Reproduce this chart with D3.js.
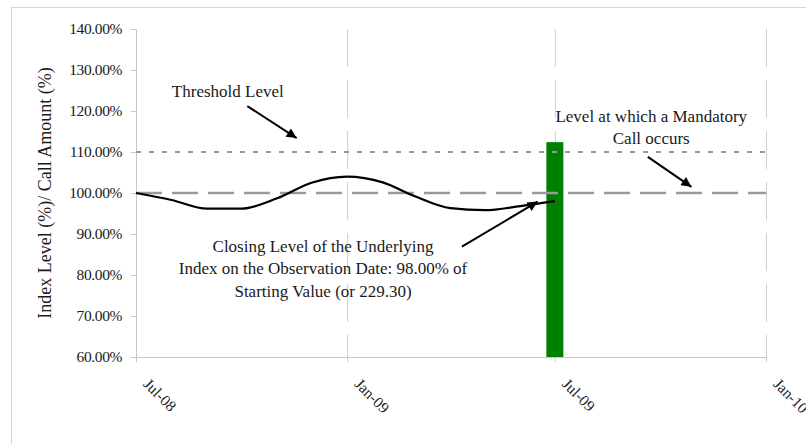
<!DOCTYPE html>
<html>
<head>
<meta charset="utf-8">
<script src="https://cdn.jsdelivr.net/npm/d3@7"></script>
<style>
  body { margin: 0; background: #fff; }
  svg { display: block; font-family: "Liberation Serif", "Times New Roman", serif; }
</style>
</head>
<body>
<svg id="chart" width="806" height="444"></svg>
<script>
// data
var months = ['2008-07-01','2008-08-01','2008-09-01','2008-10-01','2008-11-01','2008-12-01',
              '2009-01-01','2009-02-01','2009-03-01','2009-04-01','2009-05-01','2009-06-01','2009-07-01'];
var indexLevel = [100, 98.3, 96.2, 96.2, 98.7, 102.5, 104, 102.6, 99.2, 96.3, 95.8, 96.8, 98.0];

var barDates = ['2009-07-01'];
var barValues = [112.4];

var thresholdLevel = 110;
var callLevel = 100;

var xTicks = ['2008-07-01','2009-01-01','2009-07-01','2010-01-01'];
var yTicks = [60, 70, 80, 90, 100, 110, 120, 130, 140];

var notes = [
  {lines: ['Threshold Level'], date: '2008-09-19', value: 123.5,
   from: ['2008-10-06', 121.2], to: ['2008-11-18', 113.4]},
  {lines: ['Level at which a Mandatory', 'Call occurs'], date: '2009-09-23', value: 117.4,
   from: ['2009-09-20', 108.8], to: ['2009-10-28', 101.5]},
  {lines: ['Closing Level of the Underlying', 'Index on the Observation Date: 98.00% of', 'Starting Value (or 229.30)'],
   date: '2008-12-11', value: 85.7,
   from: ['2009-04-11', 86.9], to: ['2009-06-16', 97.9]}
];

var parse = d3.timeParse('%Y-%m-%d');
var fmt = d3.timeFormat('%b-%y');

var svg = d3.select('#chart');
var padL = 136, padR = 766, padT = 29, padB = 357;

var x = d3.scaleTime()
    .domain([parse(xTicks[0]), parse(xTicks[xTicks.length - 1])])
    .range([padL, padR]);
var y = d3.scaleLinear()
    .domain([60, 140])
    .range([padB, padT]);

// outer frame
svg.append('rect')
   .attr('x', 11.5).attr('y', 7.5)
   .attr('width', 900).attr('height', 500)
   .attr('fill', 'none')
   .attr('stroke', '#d6d6d6');

// vertical grid lines
svg.append('g')
   .selectAll('line')
   .data(xTicks.slice(1))
   .enter()
   .append('line')
   .attr('x1', d => x(parse(d)) + 0.5)
   .attr('x2', d => x(parse(d)) + 0.5)
   .attr('y1', padT)
   .attr('y2', padB)
   .attr('stroke', '#cfcfcf')
   .attr('stroke-width', 1)
   .attr('stroke-dasharray', '38,13');

// y axis
var yAxis = d3.axisLeft(y)
    .tickValues(yTicks)
    .tickSize(5)
    .tickPadding(9)
    .tickFormat(d => d.toFixed(2) + '%');
var gy = svg.append('g')
   .attr('transform', 'translate(' + padL + ',0)')
   .call(yAxis);
gy.selectAll('line, path').attr('stroke', '#c8c8c8');
gy.select('.domain').attr('d', 'M0.5,' + padT + 'V' + padB);
gy.selectAll('text')
  .attr('font-family', '"Liberation Serif", serif')
  .attr('font-size', '15.5px')
  .attr('fill', '#1a1a1a')
  .attr('letter-spacing', '-0.4px');

// x axis
var xAxis = d3.axisBottom(x)
    .tickValues(xTicks.map(parse))
    .tickSize(5)
    .tickFormat(fmt);
var gx = svg.append('g')
   .attr('transform', 'translate(0,' + padB + ')')
   .call(xAxis);
gx.selectAll('line, path').attr('stroke', '#c8c8c8');
gx.select('.domain').attr('d', 'M' + padL + ',0.5H' + padR);
gx.selectAll('text')
  .attr('font-family', '"Liberation Serif", serif')
  .attr('font-size', '15.5px')
  .attr('fill', '#1a1a1a')
  .attr('text-anchor', 'start')
  .attr('dy', null)
  .attr('y', 0)
  .attr('transform', 'translate(6,28) rotate(45)');

// y axis title
svg.append('text')
   .attr('transform', 'translate(51,' + ((padT + padB) / 2) + ') rotate(-90)')
   .attr('text-anchor', 'middle')
   .attr('font-size', '18px')
   .attr('fill', '#1a1a1a')
   .text('Index Level (%)/ Call Amount (%)');

// green bar
var barW = 17;
svg.selectAll('rect.bar')
   .data(barValues)
   .enter()
   .append('rect')
   .attr('class', 'bar')
   .attr('x', (d, i) => x(parse(barDates[i])) - barW / 2)
   .attr('y', d => y(d))
   .attr('width', barW)
   .attr('height', d => y(60) - y(d))
   .attr('fill', '#008000');

// threshold level (dotted) and call level (dashed)
svg.append('line')
   .attr('x1', padL).attr('x2', padR)
   .attr('y1', y(thresholdLevel)).attr('y2', y(thresholdLevel))
   .attr('stroke', '#9a9a9a')
   .attr('stroke-width', 2)
   .attr('stroke-dasharray', '5,8');
svg.append('line')
   .attr('x1', padL).attr('x2', padR)
   .attr('y1', y(callLevel)).attr('y2', y(callLevel))
   .attr('stroke', '#9a9a9a')
   .attr('stroke-width', 2.5)
   .attr('stroke-dasharray', '26,10');

// index level curve
var line = d3.line()
    .x((d, i) => x(parse(months[i])))
    .y(d => y(d))
    .curve(d3.curveMonotoneX);
svg.append('path')
   .datum(indexLevel)
   .attr('d', line)
   .attr('fill', 'none')
   .attr('stroke', '#000')
   .attr('stroke-width', 2.2);

// annotations
svg.append('defs').append('marker')
   .attr('id', 'head')
   .attr('viewBox', '0 0 10 10')
   .attr('refX', 10).attr('refY', 5)
   .attr('markerUnits', 'userSpaceOnUse')
   .attr('markerWidth', 12).attr('markerHeight', 10)
   .attr('orient', 'auto')
   .append('path')
   .attr('d', 'M0,0L10,5L0,10Z')
   .attr('fill', '#000');

var ann = svg.append('g');
notes.forEach(function(n) {
  var t = ann.append('text')
     .attr('text-anchor', 'middle')
     .attr('font-size', '17px')
     .attr('fill', '#1a1a1a');
  n.lines.forEach(function(s, i) {
    t.append('tspan')
     .attr('x', x(parse(n.date)))
     .attr('y', y(n.value) + i * 22.5)
     .text(s);
  });
  ann.append('line')
     .attr('x1', x(parse(n.from[0]))).attr('y1', y(n.from[1]))
     .attr('x2', x(parse(n.to[0]))).attr('y2', y(n.to[1]))
     .attr('stroke', '#000')
     .attr('stroke-width', 2)
     .attr('marker-end', 'url(#head)');
});
</script>
</body>
</html>
